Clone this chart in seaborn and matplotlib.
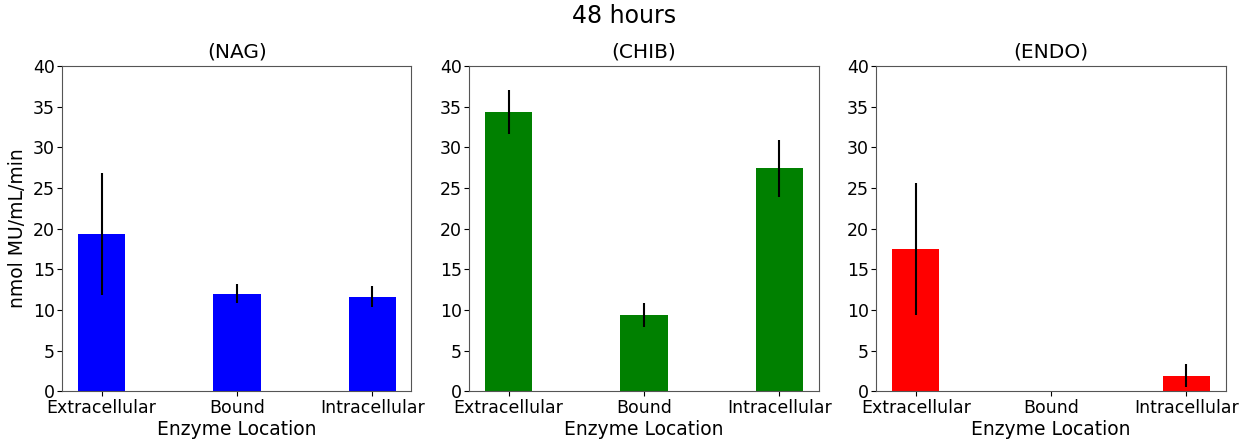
import numpy as np
import pandas as pd
import matplotlib
matplotlib.use("Agg")
import matplotlib.pyplot as plt
import seaborn as sns

# Data
locations = ["Extracellular", "Bound", "Intracellular"]
enzymes = ["(NAG)", "(CHIB)", "(ENDO)"]
colors = ["blue", "green", "red"]

nag_mean = [19.3, 12.0, 11.6]
nag_err = [7.5, 1.2, 1.3]
chib_mean = [34.3, 9.4, 27.4]
chib_err = [2.7, 1.5, 3.5]
endo_mean = [17.5, 0.0, 1.9]
endo_err = [8.1, 0.0, 1.4]

means = [nag_mean, chib_mean, endo_mean]
errs = [nag_err, chib_err, endo_err]

sns.set_style("ticks")
plt.rcParams["font.family"] = ["DejaVu Sans"]
plt.rcParams.update({
    "text.color": "black", "axes.labelcolor": "black",
    "xtick.color": "black", "ytick.color": "black",
    "xtick.major.size": 3.5, "ytick.major.size": 3.5,
})

fig, axes = plt.subplots(1, 3, figsize=(12.48, 4.43), dpi=100)
fig.subplots_adjust(left=0.050, right=0.982, top=0.851, bottom=0.117, wspace=0.166)

for i, ax in enumerate(axes):
    df = pd.DataFrame({"loc": locations, "val": means[i], "err": errs[i]})
    sns.barplot(data=df, x="loc", y="val", color=colors[i], width=0.35,
                saturation=1, errorbar=None, linewidth=0, ax=ax)
    nz = df["err"] > 0
    ax.errorbar(np.arange(len(df))[nz], df["val"][nz], yerr=df["err"][nz],
                fmt="none", ecolor="black", elinewidth=1.5, capsize=0)
    ax.set_ylim(0, 40)
    ax.set_xlim(-0.29, 2.29)
    ax.set_yticks(range(0, 41, 5))
    ax.set_title(enzymes[i], fontsize=14.5)
    ax.set_xlabel("Enzyme Location", fontsize=13.5, labelpad=2)
    ax.set_ylabel("nmol MU/mL/min" if i == 0 else "", fontsize=13.5)
    ax.tick_params(labelsize=12.5, pad=2)
    for s in ax.spines.values():
        s.set_visible(True)
        s.set_color("#555555")

fig.suptitle("48 hours", fontsize=17, y=0.99)
fig.savefig("out.png", dpi=100)
